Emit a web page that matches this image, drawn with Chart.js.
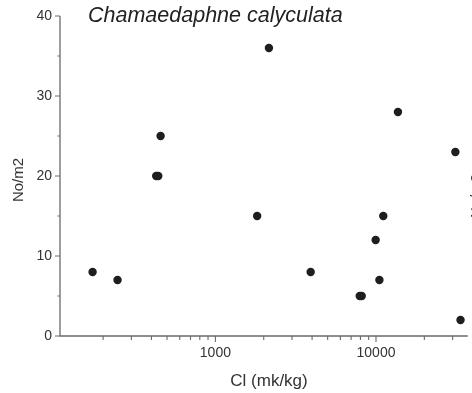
<!DOCTYPE html>
<html><head><meta charset="utf-8">
<script src="https://cdn.jsdelivr.net/npm/chart.js@4.4.1/dist/chart.umd.min.js"></script>
<style>html,body{margin:0;padding:0;background:#fff;}#wrap{position:relative;width:472px;height:393px;}</style>
</head><body><div id="wrap"><canvas id="c"></canvas></div>
<script>
const clValues = [172, 246, 456, 428, 441, 2155, 13700, 31200, 1820, 11100, 9950, 3920, 10500, 7920, 8150, 33600];
const densityValues = [8, 7, 25, 20, 20, 36, 28, 23, 15, 15, 12, 8, 7, 5, 5, 2];
const yTicks = [0, 10, 20, 30, 40];
const yMinorTicks = [5, 15, 25, 35];
const xLabelTicks = [1000, 10000];
const xLabelText = ['1000', '10000'];
const xMinorTicks = [200, 300, 400, 500, 600, 700, 800, 900, 2000, 3000, 4000, 5000, 6000, 7000, 8000, 9000, 20000, 30000];
const titleText = 'Chamaedaphne calyculata';
const xTitle = 'Cl (mk/kg)';
const yTitle = 'No/m2';

const points = clValues.map((v, i) => ({x: v, y: densityValues[i]}));
const FONT = '"Liberation Sans", Arial, sans-serif';

const axesPlugin = {
  id: 'axesPlugin',
  beforeDatasetsDraw(chart) {
    const ctx = chart.ctx, xs = chart.scales.x, ys = chart.scales.y, a = chart.chartArea;
    ctx.save();
    ctx.strokeStyle = '#6a6a6a';
    ctx.lineWidth = 1.3;
    ctx.beginPath();
    ctx.moveTo(a.left, a.top); ctx.lineTo(a.left, a.bottom); ctx.lineTo(a.right, a.bottom);
    ctx.stroke();
    ctx.lineWidth = 1.1;
    ctx.beginPath();
    yTicks.forEach(v => { const p = ys.getPixelForValue(v); ctx.moveTo(a.left - 5, p); ctx.lineTo(a.left, p); });
    yMinorTicks.forEach(v => { const p = ys.getPixelForValue(v); ctx.moveTo(a.left - 2.5, p); ctx.lineTo(a.left, p); });
    xLabelTicks.forEach(v => { const p = xs.getPixelForValue(v); ctx.moveTo(p, a.bottom); ctx.lineTo(p, a.bottom + 6); });
    xMinorTicks.forEach(v => { const p = xs.getPixelForValue(v); ctx.moveTo(p, a.bottom); ctx.lineTo(p, a.bottom + 4); });
    ctx.stroke();

    ctx.fillStyle = '#333';
    ctx.font = '14px ' + FONT;
    ctx.textAlign = 'right'; ctx.textBaseline = 'middle';
    yTicks.forEach(v => ctx.fillText(String(v), a.left - 8, ys.getPixelForValue(v)));
    ctx.textAlign = 'center'; ctx.textBaseline = 'top';
    xLabelTicks.forEach((v, i) => ctx.fillText(xLabelText[i], xs.getPixelForValue(v), a.bottom + 10));

    ctx.font = '17px ' + FONT;
    ctx.textBaseline = 'alphabetic';
    ctx.fillText(xTitle, 269, 386);

    ctx.save();
    ctx.translate(19, 180); ctx.rotate(-Math.PI / 2);
    ctx.font = '15px ' + FONT; ctx.textAlign = 'center'; ctx.textBaseline = 'middle';
    ctx.fillText(yTitle, 0, 0);
    ctx.restore();

    // fragment of the neighbouring panel's axis title at the right edge
    ctx.save();
    ctx.translate(481, 196); ctx.rotate(-Math.PI / 2);
    ctx.font = '15px ' + FONT; ctx.textAlign = 'center'; ctx.textBaseline = 'alphabetic';
    ctx.fillText(yTitle, 0, 0);
    ctx.restore();

    ctx.font = 'italic 21.5px ' + FONT;
    ctx.textAlign = 'left'; ctx.textBaseline = 'alphabetic';
    ctx.fillStyle = '#222';
    ctx.fillText(titleText, 88, 22);
    ctx.restore();
  }
};

new Chart(document.getElementById('c'), {
  type: 'scatter',
  data: { datasets: [{ data: points, backgroundColor: '#1e1e1e', borderWidth: 0, pointRadius: 4.2, pointHoverRadius: 4.2, clip: false }] },
  options: {
    responsive: true, maintainAspectRatio: false, animation: false,
    layout: { padding: { left: 60, top: 16, right: 0, bottom: 57 } },
    plugins: { legend: { display: false }, tooltip: { enabled: false }, title: { display: false } },
    scales: {
      x: { type: 'logarithmic', display: false, min: 107.8, max: 37290, bounds: 'data' },
      y: { type: 'linear', display: false, min: 0, max: 40 }
    }
  },
  plugins: [axesPlugin]
});
</script>
</body></html>
